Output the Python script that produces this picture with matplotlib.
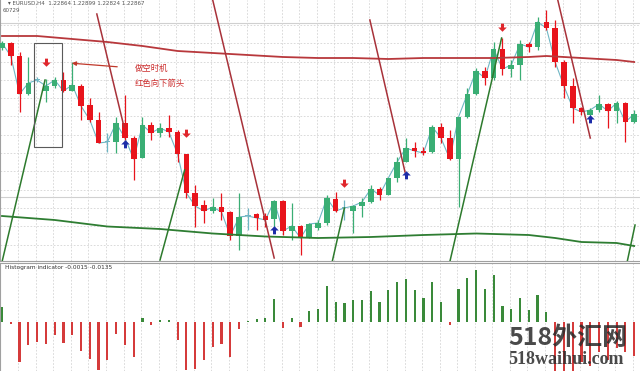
import matplotlib
matplotlib.use("Agg")
import matplotlib.pyplot as plt
import numpy as np
from matplotlib.path import Path
from matplotlib.patches import Rectangle

# ---------------- data ----------------
opens = [1.2352,1.2357,1.2344,1.2306,1.2320,1.2309,1.2314,1.2320,1.2309,1.2314,
         1.2295,1.2280,1.2258,1.2258,1.2277,1.2262,1.2242,1.2275,1.2267,1.2272,
         1.2268,1.2246,1.2207,1.2195,1.2189,1.2193,1.2188,1.2164,1.2184,1.2186,
         1.2184,1.2181,1.2199,1.2169,1.2174,1.2162,1.2172,1.2177,1.2201,1.2192,
         1.2189,1.2194,1.2198,1.2211,1.2205,1.2222,1.2238,1.2252,1.2249,1.2248,
         1.2273,1.2262,1.2241,1.2283,1.2306,1.2329,1.2322,1.2351,1.2331,1.2335,
         1.2356,1.2353,1.2378,1.2372,1.2338,1.2314,1.2292,1.2285,1.2290,1.2296,
         1.2289,1.2297,1.2278]
highs = [1.2359,1.2358,1.2348,1.2343,1.2323,1.2321,1.2323,1.2328,1.2338,1.2316,
         1.2302,1.2288,1.2267,1.2283,1.2305,1.2264,1.2283,1.2278,1.2277,1.2285,
         1.2270,1.2246,1.2215,1.2200,1.2202,1.2207,1.2189,1.2207,1.2192,1.2187,
         1.2187,1.2200,1.2200,1.2197,1.2175,1.2177,1.2180,1.2205,1.2208,1.2200,
         1.2195,1.2202,1.2215,1.2213,1.2222,1.2243,1.2262,1.2258,1.2253,1.2275,
         1.2277,1.2270,1.2283,1.2312,1.2332,1.2333,1.2358,1.2362,1.2340,1.2360,
         1.2358,1.2383,1.2390,1.2380,1.2340,1.2322,1.2293,1.2292,1.2305,1.2297,
         1.2299,1.2298,1.2290]
lows = [1.2350,1.2335,1.2288,1.2305,1.2318,1.2298,1.2312,1.2308,1.2309,1.2280,
        1.2278,1.2257,1.2248,1.2247,1.2260,1.2220,1.2242,1.2260,1.2263,1.2263,
        1.2238,1.2202,1.2173,1.2177,1.2187,1.2180,1.2160,1.2150,1.2170,1.2170,
        1.2173,1.2167,1.2165,1.2160,1.2145,1.2162,1.2170,1.2175,1.2188,1.2180,
        1.2167,1.2183,1.2197,1.2200,1.2205,1.2218,1.2238,1.2243,1.2245,1.2247,
        1.2257,1.2240,1.2193,1.2282,1.2305,1.2315,1.2320,1.2325,1.2323,1.2320,
        1.2348,1.2350,1.2370,1.2333,1.2302,1.2277,1.2285,1.2284,1.2288,1.2272,
        1.2277,1.2258,1.2277]
closes = [1.2357,1.2344,1.2306,1.2317,1.2320,1.2314,1.2320,1.2309,1.2315,1.2294,
          1.2280,1.2257,1.2258,1.2277,1.2262,1.2241,1.2275,1.2267,1.2272,1.2268,
          1.2246,1.2207,1.2194,1.2189,1.2193,1.2188,1.2164,1.2183,1.2184,1.2182,
          1.2180,1.2199,1.2169,1.2174,1.2162,1.2176,1.2177,1.2202,1.2189,1.2192,
          1.2194,1.2198,1.2211,1.2205,1.2222,1.2238,1.2252,1.2249,1.2247,1.2273,
          1.2262,1.2241,1.2283,1.2306,1.2329,1.2322,1.2351,1.2331,1.2335,1.2356,
          1.2353,1.2378,1.2372,1.2338,1.2314,1.2292,1.2288,1.2290,1.2296,1.2289,
          1.2297,1.2278,1.2286]

# long moving average (red) and lower band (green), read at bar indices
ma_idx = [0, 4, 8, 12, 16, 20, 24, 28, 32, 36, 40, 44, 48, 52, 56, 60, 62, 64, 66, 68, 70, 72]
ma_val = [1.2364,1.2364,1.2361,1.2358,1.2354,1.2349,1.2347,1.2345,1.2343,1.2342,1.2342,
          1.2341,1.2342,1.2342,1.2342,1.2343,1.2344,1.2343,1.2342,1.2341,1.2340,1.2338]
band_idx = [0, 6, 12, 18, 24, 30, 36, 42, 48, 54, 60, 63, 66, 70, 72]
band_val = [1.2184,1.2180,1.21735,1.2171,1.21665,1.21635,1.2162,1.2163,1.2165,1.21665,
            1.2165,1.2162,1.2158,1.2157,1.2154]

# slanted indicator lines: (start index, start price, end index, end price)
red_lines = [(10.8, 1.2386, 13.9, 1.2273), (24.0, 1.2400, 31.0, 1.2142),
             (41.9, 1.2380, 45.9, 1.2228), (63.3, 1.2400, 67.0, 1.2262)]
green_lines = [(0.0, 1.2138, 4.9, 1.2320), (18.0, 1.2140, 20.8, 1.2230),
               (37.6, 1.2138, 39.0, 1.2192), (51.0, 1.2138, 56.9, 1.2362),
               (71.2, 1.2138, 72.1, 1.2175)]

# signal arrows
sell_idx = [5, 21, 39, 57]
sell_price = [1.2338, 1.2267, 1.2217, 1.2373]
buy_idx = [14, 31, 46, 67]
buy_price = [1.2256, 1.2170, 1.2225, 1.2281]

# histogram indicator
hist_vals = [15,-1.5,-40,-23,-20,-22,-13,-21,-13,-29,-37,-48,-38,-12,-23,-35,4,-3,2,2,
             -18,-48,-47,-38,-25,-22,-35,-7,1,3,4,23,-6,4,-5,11,13,36,20,19,
             22,22,31,20,32,40,43,32,24,40,20,-3,33,44,52,33,47,16,13,24,
             12,27,10,-50,-52,-50,-40,-44,-30,-38,-26,-30,-34]
hist_vals = [v * 0.0004 for v in hist_vals]

title_text = "EURUSD,H4  1.22864 1.22899 1.22824 1.22867"
hist_label = "Histogram indicator -0.0015 -0.0135"

# ---------------- styling ----------------
GREEN = "#3aae74"
RED = "#e8141c"
DOJI = "#6fb6c4"
CJK = ["Noto Sans CJK SC", "DejaVu Sans"]

fig = plt.figure(figsize=(6.4, 3.71), dpi=100)
fig.patch.set_facecolor("white")
ax = fig.add_axes([0, 110 / 371, 1, 261 / 371])
axh = fig.add_axes([0, 0, 1, 108 / 371])

x = np.arange(len(opens))
o = np.array(opens); c = np.array(closes); h = np.array(highs); l = np.array(lows)
cols = [GREEN if cc > oo else (RED if cc < oo else DOJI) for oo, cc in zip(o, c)]

xmin, xmax = -2 / 8.78, 638 / 8.78
for a in (ax, axh):
    a.set_xlim(xmin, xmax)
    a.set_xticks(np.arange(1.85, 73, 2.0))
    a.tick_params(length=0, labelbottom=False, labelleft=False)
    a.grid(axis="x", color="#d4d4d4", lw=0.6, ls=(0, (2, 2)))
    for s in ("top", "right"):
        a.spines[s].set_visible(False)
    for s in ("left", "bottom"):
        a.spines[s].set_color("#a0a0a0")
        a.spines[s].set_linewidth(0.8)

ax.set_ylim(1.2139, 1.2400)
ax.set_yticks(np.arange(1.2375, 1.2139, -0.00183))
ax.grid(axis="y", color="#d4d4d4", lw=0.6, ls=(0, (2, 2)))
for lvl in (1.2377, 1.2203):
    ax.axhline(lvl, color="#d0d0d0", lw=0.8, zorder=1)

# close line behind candles
ax.plot(x, c, color=DOJI, lw=0.8, zorder=2)

# candles
ax.vlines(x, l, h, colors=cols, lw=0.9, zorder=3)
body_lo = np.minimum(o, c)
body_h = np.maximum(np.abs(c - o), 0.00008)
ax.bar(x, body_h, bottom=body_lo, width=0.64, color=cols, zorder=4, linewidth=0)

# moving average and band
ax.plot(ma_idx, ma_val, color="#b8383c", lw=1.3, zorder=5)
ax.plot(band_idx, band_val, color="#2e7d32", lw=1.3, zorder=5)

for (x0, y0, x1, y1) in red_lines:
    ax.plot([x0, x1], [y0, y1], color="#a8323a", lw=1.1, zorder=6)
for (x0, y0, x1, y1) in green_lines:
    ax.plot([x0, x1], [y0, y1], color="#2d7a2d", lw=1.1, zorder=6)

# arrow markers
down_arrow = Path([(-0.35, 0.9), (0.35, 0.9), (0.35, 0.0), (1.0, 0.0), (0.0, -1.0),
                   (-1.0, 0.0), (-0.35, 0.0), (-0.35, 0.9)],
                  [Path.MOVETO] + [Path.LINETO] * 6 + [Path.CLOSEPOLY])
up_arrow = Path([(vx, -vy) for vx, vy in down_arrow.vertices], down_arrow.codes)
ax.scatter(sell_idx, sell_price, marker=down_arrow, s=38, color="#e0262c", zorder=7, linewidths=0)
ax.scatter(buy_idx, buy_price, marker=up_arrow, s=38, color="#1c2ca8", zorder=7, linewidths=0)

# annotation box, arrow and Chinese notes
ax.add_patch(Rectangle((3.64, 1.2253), 3.19, 0.0104, fill=False, ec="#5a5a5a", lw=0.8, zorder=8))
ax.annotate("", xy=(7.63, 1.2337), xytext=(13.44, 1.2333),
            arrowprops=dict(arrowstyle="-|>", color="#c0392b", lw=0.9, mutation_scale=6), zorder=8)
ax.text(15.15, 1.2332, "做空时机", family=CJK, fontsize=6, color="#cc2f2f", va="center", ha="left")
ax.text(15.15, 1.2317, "红色向下箭头", family=CJK, fontsize=6, color="#cc2f2f", va="center", ha="left")

# histogram panel
axh.set_ylim(-0.0196, 0.0236)
hcols = ["#3a8a3a" if v >= 0 else "#d53b3b" for v in hist_vals]
axh.bar(x, hist_vals, width=0.25, color=hcols, linewidth=0, zorder=3)
axh.spines["bottom"].set_visible(False)
axh.spines["top"].set_visible(True)
axh.spines["top"].set_color("#a0a0a0")
axh.set_yticks([])

# texts
fig.text(8 / 640, 1 - 3 / 371, "▾ " + title_text, fontsize=4, color="#555555", va="center", ha="left")
fig.text(3 / 640, 1 - 10 / 371, "60729", fontsize=4, color="#555555", va="center", ha="left")
fig.text(5 / 640, (371 - 268) / 371, hist_label, fontsize=4.2, color="#333333", va="center", ha="left")

fig.text(508 / 640, (371 - 338) / 371, "518外汇网", family=CJK, fontsize=18, weight="bold",
         color="#2a2a2a", alpha=0.85, va="center", ha="left", zorder=10)
fig.text(508 / 640, (371 - 360) / 371, "518waihui.com", family=["Liberation Serif", "DejaVu Serif"],
         fontsize=13, weight="bold", color="#2a2a2a", alpha=0.85, va="center", ha="left", zorder=10)

fig.savefig("out.png", dpi=100)
